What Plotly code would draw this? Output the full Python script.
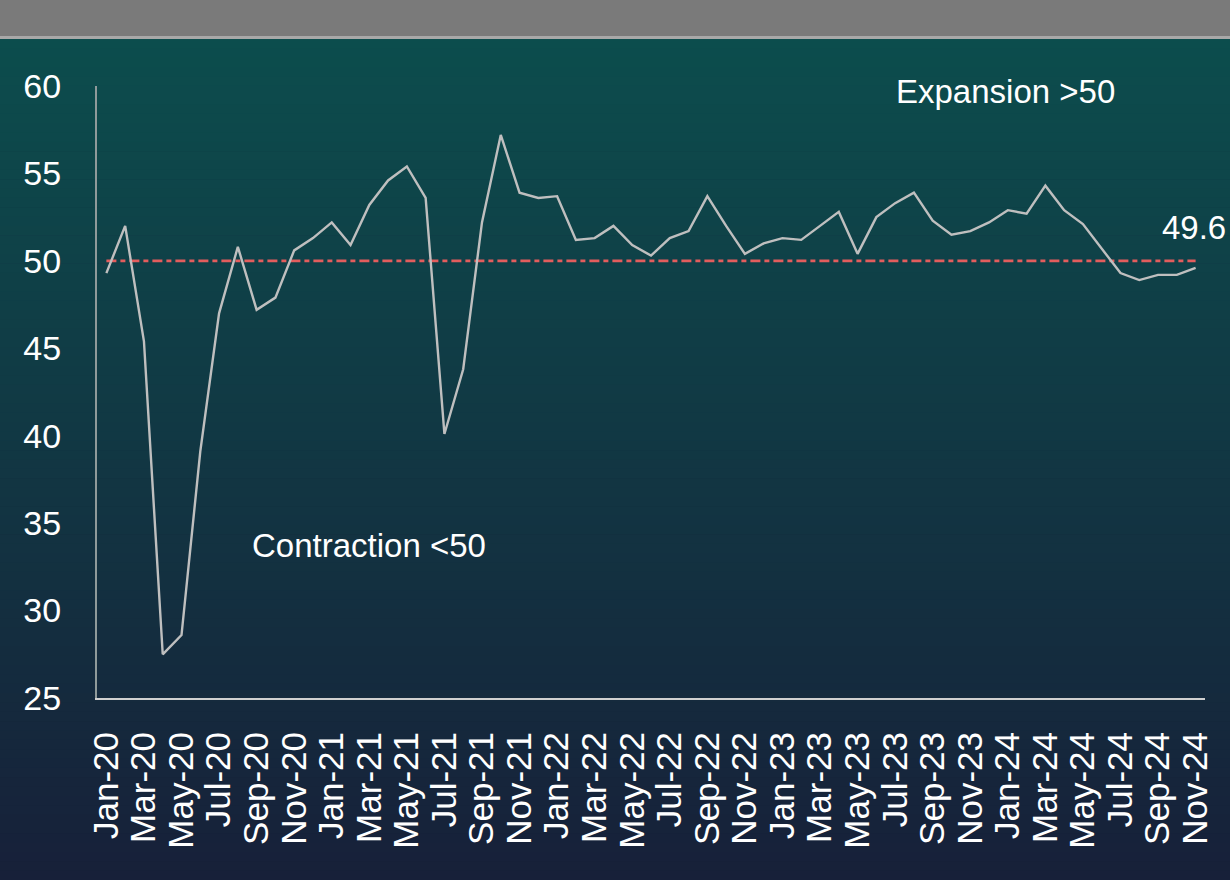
import plotly.graph_objects as go

months = ["Jan", "Feb", "Mar", "Apr", "May", "Jun", "Jul", "Aug", "Sep", "Oct", "Nov", "Dec"]
years = ["20", "21", "22", "23", "24"]
categories = [f"{m}-{y}" for y in years for m in months][:59]

pmi_values = [
    49.3, 52.0, 45.4, 27.5, 28.6, 39.1, 47.0, 50.8, 47.2, 47.9, 50.6, 51.3,
    52.2, 50.9, 53.2, 54.6, 55.4, 53.6, 40.1, 43.8, 52.2, 57.2, 53.9, 53.6,
    53.7, 51.2, 51.3, 52.0, 50.9, 50.3, 51.3, 51.7, 53.7, 52.0, 50.4, 51.0,
    51.3, 51.2, 52.0, 52.8, 50.4, 52.5, 53.3, 53.9, 52.3, 51.5, 51.7, 52.2,
    52.9, 52.7, 54.3, 52.9, 52.1, 50.7, 49.3, 48.9, 49.2, 49.2, 49.6,
]
threshold = [50.0] * len(categories)
tick_labels = categories[::2]
y_ticks = [25, 30, 35, 40, 45, 50, 55, 60]
last_label = "49.6"

W, H = 1230, 880
L, R, T, B = 97, 25, 86, 182
plot_h = H - T - B
plot_w = W - L - R


def py_to_paper(py):
    return (H - B - py) / plot_h


def px_to_paper(px):
    return (px - L) / plot_w


shapes = []
top_c = (0x0C, 0x4D, 0x4D)
bot_c = (0x17, 0x20, 0x39)
g0, g1 = 39, H
n = 90
for i in range(n):
    a = g0 + (g1 - g0) * i / n
    b = g0 + (g1 - g0) * (i + 1) / n
    t = (i + 0.5) / n
    c = tuple(round(top_c[k] + (bot_c[k] - top_c[k]) * t) for k in range(3))
    shapes.append(dict(type="rect", xref="paper", yref="paper",
                       x0=px_to_paper(0), x1=px_to_paper(W),
                       y0=py_to_paper(b + 0.6), y1=py_to_paper(a),
                       fillcolor="rgb(%d,%d,%d)" % c, line=dict(width=0), layer="below"))
shapes.append(dict(type="rect", xref="paper", yref="paper",
                   x0=px_to_paper(0), x1=px_to_paper(W),
                   y0=py_to_paper(36), y1=py_to_paper(0),
                   fillcolor="#7a7a7a", line=dict(width=0), layer="below"))
shapes.append(dict(type="rect", xref="paper", yref="paper",
                   x0=px_to_paper(0), x1=px_to_paper(W),
                   y0=py_to_paper(39), y1=py_to_paper(36),
                   fillcolor="#a8a8a8", line=dict(width=0), layer="below"))

font_family = "Liberation Sans, Arial, sans-serif"

fig = go.Figure()
fig.add_trace(go.Scatter(x=categories, y=threshold, mode="lines",
                         line=dict(color="#e35d5d", width=2.6, dash="10px,4px,5px,4px"),
                         hoverinfo="skip", showlegend=False))
fig.add_trace(go.Scatter(x=categories, y=pmi_values, mode="lines",
                         line=dict(color="#bfbfbf", width=2.4), showlegend=False))

fig.update_layout(
    width=W, height=H,
    margin=dict(l=L, r=R, t=T, b=B, pad=0),
    paper_bgcolor="#172039", plot_bgcolor="rgba(0,0,0,0)",
    shapes=shapes,
    font=dict(family=font_family, color="white"),
    annotations=[
        dict(x=47.9, y=59.7, xref="x", yref="y", text="Expansion >50", showarrow=False,
             xanchor="center", yanchor="middle", font=dict(size=33, color="white")),
        dict(x=14.0, y=33.7, xref="x", yref="y", text="Contraction <50", showarrow=False,
             xanchor="center", yanchor="middle", font=dict(size=33, color="white")),
        dict(x=57.9, y=51.9, xref="x", yref="y", text=last_label, showarrow=False,
             xanchor="center", yanchor="middle", font=dict(size=33, color="white")),
    ],
)
fig.update_xaxes(
    type="category", range=[-0.5, 58.5], tickmode="array",
    tickvals=tick_labels, ticktext=tick_labels, tickangle=-90,
    tickfont=dict(size=35, color="white", family=font_family),
    ticks="outside", ticklen=18, tickcolor="rgba(0,0,0,0)",
    showgrid=False, zeroline=False, showline=True, linecolor="#d0d0d0", linewidth=2,
)
fig.update_yaxes(
    range=[25, 60], tickmode="array", tickvals=y_ticks,
    tickfont=dict(size=34, color="white", family=font_family),
    ticks="outside", ticklen=27, tickcolor="rgba(0,0,0,0)",
    showgrid=False, zeroline=False, showline=True, linecolor="#8f9a9a", linewidth=2,
)

fig.write_html("out.html", config={"displayModeBar": False},
               post_script="document.body.style.margin='0';")
